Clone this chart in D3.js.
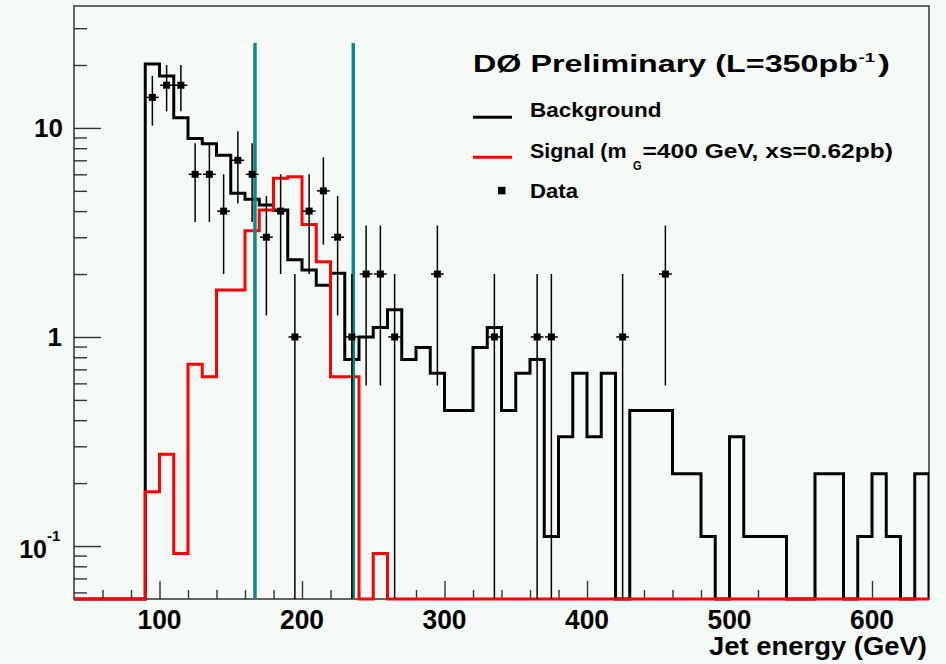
<!DOCTYPE html>
<html><head><meta charset="utf-8">
<script src="https://cdn.jsdelivr.net/npm/d3@7"></script>
<style>
html,body{margin:0;padding:0;background:#f6faf7;}
svg{display:block;}
text{font-family:"Liberation Sans",Arial,Helvetica,sans-serif;font-weight:bold;fill:#000;}
</style></head><body>
<svg id="chart" width="946" height="664"></svg>
<script>
// ---- data ----
const binWidth = 10;
const binLowEdges = d3.range(40, 640, binWidth); // 60 bins, 40..640 GeV
const backgroundValues = [
  0, 0, 0, 0, 0,
  20.2, 17.7, 11.2, 8.9, 8.4, 7.4, 4.87, 4.56, 4.28, 4.05,
  2.34, 2.09, 1.77, 2.02, 0.78, 1.0, 1.11, 1.35, 0.78, 0.89,
  0.67, 0.445, 0.445, 0.89, 1.11, 0.445, 0.67, 0.78, 0.111, 0.333,
  0.67, 0.333, 0.67, 0, 0.445, 0.445, 0.445, 0.222, 0.222, 0.111,
  0, 0.333, 0.111, 0.111, 0.111, 0, 0, 0.222, 0.222, 0,
  0.111, 0.222, 0.111, 0, 0.222
];
const signalValues = [
  0, 0, 0, 0, 0,
  0.182, 0.275, 0.092, 0.74, 0.646, 1.68, 1.68, 3.22, 4.05, 5.75,
  5.84, 3.45, 2.29, 0.646, 0.646, 0, 0.092, 0, 0, 0,
  0, 0, 0, 0, 0, 0, 0, 0, 0, 0,
  0, 0, 0, 0, 0, 0, 0, 0, 0, 0,
  0, 0, 0, 0, 0, 0, 0, 0, 0, 0,
  0, 0, 0, 0, 0
];
const dataCenters = [95, 105, 115, 125, 135, 145, 155, 165, 175, 185, 195, 205, 215, 225, 235, 245, 255, 265, 295, 335, 365, 375, 425, 455];
const dataCounts  = [14, 16, 16, 6, 6, 4, 7, 6, 3, 4, 1, 4, 5, 3, 1, 2, 2, 1, 2, 1, 1, 1, 1, 2];
const cutPositions = [167, 236];
const cutTop = 25.5;
const xMajorTicks = [100, 200, 300, 400, 500, 600];
const xMinorTicks = [60, 80, 120, 140, 160, 180, 220, 240, 260, 280, 320, 340, 360, 380, 420, 440, 460, 480, 520, 540, 560, 580, 620];
const yMajorTicks = [0.1, 1, 10];
const yMinorTicks = [0.06, 0.07, 0.08, 0.09, 0.2, 0.3, 0.4, 0.5, 0.6, 0.7, 0.8, 0.9, 2, 3, 4, 5, 6, 7, 8, 9, 20, 30];

// ---- layout ----
const L = 74, R = 929, T = 6, B = 599;
const svg = d3.select("#chart");
const x = d3.scaleLinear().domain([40, 640]).range([L, R]);
const y = d3.scaleLog().domain([0.0558, 38.3]).range([B, T]);

svg.append("defs").append("clipPath").attr("id", "clip")
  .append("rect").attr("x", L).attr("y", T - 2).attr("width", R - L).attr("height", B - T + 4);

const tickColor = "#333";
function xAxis(vals, size) {
  const g = svg.append("g").attr("transform", `translate(0,${B})`)
    .call(d3.axisBottom(x).tickValues(vals).tickSize(-size).tickFormat(""));
  g.select(".domain").remove();
  g.selectAll("line").attr("stroke", tickColor).attr("stroke-width", 1.4);
}
xAxis(xMajorTicks, 18);
xAxis(xMinorTicks, 9);
function yAxis(vals, size) {
  const g = svg.append("g").attr("transform", `translate(${L},0)`)
    .call(d3.axisLeft(y).tickValues(vals).tickSize(-size).tickFormat(""));
  g.select(".domain").remove();
  g.selectAll("line").attr("stroke", tickColor).attr("stroke-width", 1.4);
}
yAxis(yMajorTicks, 27);
yAxis(yMinorTicks, 13);

// x tick labels
svg.append("g").selectAll("text").data(xMajorTicks).join("text")
  .attr("x", d => x(d)).attr("y", 628.5).attr("text-anchor", "middle")
  .attr("font-size", 27.5).attr("textLength", 44).attr("lengthAdjust", "spacingAndGlyphs")
  .text(d => d);
// y tick labels
svg.append("text").attr("x", 63).attr("y", y(10) + 9.5).attr("text-anchor", "end").attr("font-size", 26).text("10");
svg.append("text").attr("x", 62).attr("y", y(1) + 9.5).attr("text-anchor", "end").attr("font-size", 26).text("1");
svg.append("text").attr("x", 47).attr("y", y(0.1) + 12).attr("text-anchor", "end").attr("font-size", 25).text("10");
svg.append("text").attr("x", 47).attr("y", y(0.1) - 5).attr("font-size", 15).text("-1");

// axis title
svg.append("text").attr("x", 927).attr("y", 655).attr("text-anchor", "end")
  .attr("font-size", 25.5).attr("textLength", 218).attr("lengthAdjust", "spacingAndGlyphs")
  .text("Jet energy (GeV)");

// frame
svg.append("rect").attr("x", L).attr("y", T).attr("width", R - L).attr("height", B - T)
  .attr("fill", "none").attr("stroke", "#333").attr("stroke-width", 1.5);

// histograms
function histPath(vals) {
  const pts = [[x(binLowEdges[0]), B]];
  vals.forEach((v, i) => {
    const yy = v > 0 ? Math.min(y(v), B) : B;
    pts.push([x(binLowEdges[i]), yy], [x(binLowEdges[i] + binWidth), yy]);
  });
  pts.push([x(binLowEdges[binLowEdges.length - 1] + binWidth), B]);
  return d3.line()(pts);
}
const plot = svg.append("g").attr("clip-path", "url(#clip)");
plot.append("path").attr("d", histPath(backgroundValues))
  .attr("fill", "none").attr("stroke", "#000").attr("stroke-width", 3).attr("stroke-linejoin", "miter");
plot.append("path").attr("d", histPath(signalValues))
  .attr("fill", "none").attr("stroke", "#ff0000").attr("stroke-width", 3).attr("stroke-linejoin", "miter");

// cut lines
plot.selectAll(".cut").data(cutPositions).join("line").attr("class", "cut")
  .attr("x1", d => x(d)).attr("x2", d => x(d))
  .attr("y1", y(cutTop)).attr("y2", B - 1)
  .attr("stroke", "#0e8787").attr("stroke-width", 3.5);

// data points
const dg = plot.append("g");
dataCenters.forEach((c, i) => {
  const n = dataCounts[i], e = Math.sqrt(n);
  const lo = n - e > 0 ? y(n - e) : B;
  dg.append("line").attr("x1", x(c)).attr("x2", x(c)).attr("y1", y(n + e)).attr("y2", lo)
    .attr("stroke", "#000").attr("stroke-width", 1.5);
  dg.append("line").attr("x1", x(c - 4.5)).attr("x2", x(c + 4.5)).attr("y1", y(n)).attr("y2", y(n))
    .attr("stroke", "#000").attr("stroke-width", 1.5);
  dg.append("rect").attr("x", x(c) - 3.5).attr("y", y(n) - 3.5).attr("width", 7).attr("height", 7).attr("fill", "#000");
});

// legend / title
function txt(xp, yp, s, size, len) {
  const t = svg.append("text").attr("x", xp).attr("y", yp).attr("font-size", size).text(s);
  if (len) t.attr("textLength", len).attr("lengthAdjust", "spacingAndGlyphs");
  return t;
}
txt(473, 71.7, "D\u00D8 Preliminary (L=350pb", 23.5, 385);
txt(858.5, 61.5, "-1", 13.5, 16.5);
txt(878, 71.7, ")", 23.5, 12);

svg.append("line").attr("x1", 473).attr("x2", 512).attr("y1", 117.3).attr("y2", 117.3).attr("stroke", "#000").attr("stroke-width", 3);
txt(530, 116.7, "Background", 21, 131.5);
svg.append("line").attr("x1", 473).attr("x2", 512).attr("y1", 157.3).attr("y2", 157.3).attr("stroke", "#ff0000").attr("stroke-width", 3);
txt(530, 158.3, "Signal (m", 21, 96.5);
txt(633, 170, "G", 12, 8.5);
txt(642.5, 158.3, "=400 GeV, xs=0.62pb)", 21, 250.5);
svg.append("rect").attr("x", 498).attr("y", 186.8).attr("width", 7.5).attr("height", 7.5).attr("fill", "#000");
txt(530, 198.3, "Data", 21, 48);
</script>
</body></html>
